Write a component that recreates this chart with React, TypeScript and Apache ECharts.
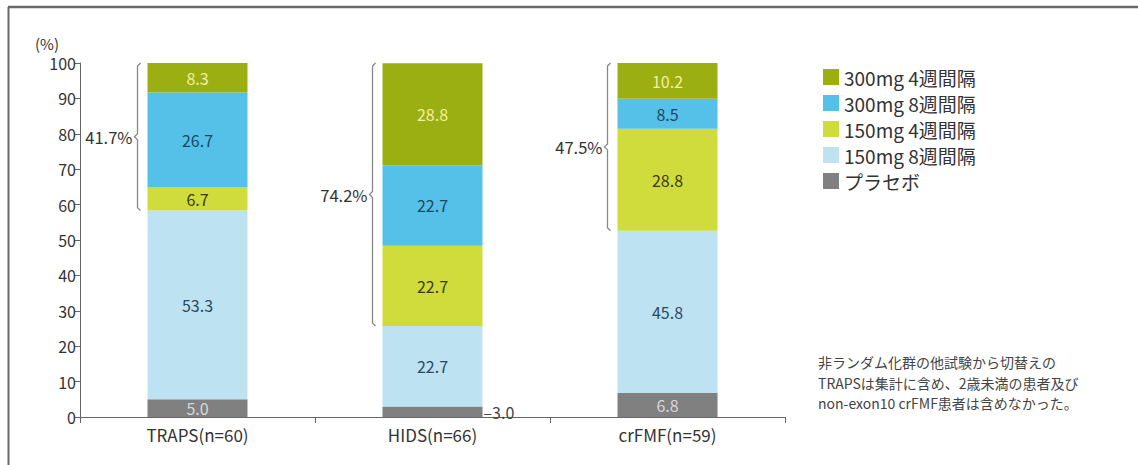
import React, { useEffect, useRef } from "react";
import * as echarts from "echarts";

const categories = ["TRAPS(n=60)", "HIDS(n=66)", "crFMF(n=59)"];
const placebo = [5.0, 3.0, 6.8];
const mg150w8 = [53.3, 22.7, 45.8];
const mg150w4 = [6.7, 22.7, 28.8];
const mg300w8 = [26.7, 22.7, 8.5];
const mg300w4 = [8.3, 28.8, 10.2];
const bracketTotals = ["41.7%", "74.2%", "47.5%"];
const yTicks = [0, 10, 20, 30, 40, 50, 60, 70, 80, 90, 100];
const legendNames = ["300mg 4週間隔", "300mg 8週間隔", "150mg 4週間隔", "150mg 8週間隔", "プラセボ"];
const noteLines = [
  "非ランダム化群の他試験から切替えの",
  "TRAPSは集計に含め、2歳未満の患者及び",
  "non-exon10 crFMF患者は含めなかった。",
];

const FONT = "'Noto Sans CJK JP', 'Noto Sans', sans-serif";

export default function App() {
  const ref = useRef<HTMLDivElement>(null);
  useEffect(() => {
    if (!ref.current) return;
    const chart = echarts.init(ref.current, null, { renderer: "svg" });

    const mk = (
      name: string,
      data: number[],
      color: string,
      labelColor: string
    ) => ({
      name,
      type: "bar",
      stack: "total",
      barWidth: 100,
      data: data.map((v) => {
        if (name === "プラセボ" && v < 4) {
          return {
            value: v,
            label: {
              position: "right",
              distance: 1,
              color: "#444",
              formatter: () => "–" + v.toFixed(1),
            },
          };
        }
        return v;
      }),
      itemStyle: { color },
      label: {
        show: true,
        position: "inside",
        color: labelColor,
        fontSize: 16,
        fontFamily: FONT,
        formatter: (p: any) => Number(p.value).toFixed(1),
      },
      emphasis: { disabled: true },
    });

    const bracketData = categories.map((_, i) => [
      i,
      placebo[i] + mg150w8[i],
      100,
    ]);

    chart.setOption({
      animation: false,
      grid: { left: 80, top: 63, right: 353, bottom: 48, containLabel: false },
      legend: {
        orient: "vertical",
        left: 818,
        top: 62,
        itemWidth: 16,
        itemHeight: 16,
        itemGap: 6,
        icon: "rect",
        data: legendNames,
        textStyle: { fontSize: 19, lineHeight: 20, color: "#333", fontFamily: FONT },
        selectedMode: false,
      },
      xAxis: {
        type: "category",
        data: categories,
        boundaryGap: true,
        axisLine: { lineStyle: { color: "#666" } },
        axisTick: { show: true, length: 6, lineStyle: { color: "#666" } },
        axisLabel: { fontSize: 17, color: "#333", fontFamily: FONT, margin: 9 },
      },
      yAxis: {
        type: "value",
        min: yTicks[0],
        max: yTicks[yTicks.length - 1],
        interval: 10,
        splitLine: { show: false },
        axisLine: { show: true, lineStyle: { color: "#666" } },
        axisTick: { show: true, length: 6, lineStyle: { color: "#666" } },
        axisLabel: { fontSize: 16, color: "#333", fontFamily: FONT, margin: 4 },
      },
      graphic: [
        { type: "line", shape: { x1: 8, y1: 7, x2: 1138, y2: 7 }, style: { stroke: "#6a6a6a", lineWidth: 2.5 } },
        { type: "line", shape: { x1: 8.5, y1: 7, x2: 8.5, y2: 465 }, style: { stroke: "#6a6a6a", lineWidth: 2 } },
        {
          type: "text",
          left: 35,
          top: 36,
          style: { text: "(%)", fontSize: 15, fill: "#333", fontFamily: FONT },
        },
        ...noteLines.map((t, i) => ({
          type: "text",
          x: 818,
          y: 362 + i * 20.5,
          style: {
            text: t,
            fontSize: 14,
            verticalAlign: "middle",
            fill: "#444",
            fontFamily: FONT,
          },
        })),
      ],
      series: [
        mk("プラセボ", placebo, "#808080", "#d8d8d8"),
        mk("150mg 8週間隔", mg150w8, "#bde2f2", "#2c4a60"),
        mk("150mg 4週間隔", mg150w4, "#d0dc3c", "#3a3a18"),
        mk("300mg 8週間隔", mg300w8, "#56c1e8", "#1a4766"),
        mk("300mg 4週間隔", mg300w4, "#9caf12", "#f3efa0"),
        {
          type: "custom",
          name: "bracket",
          data: bracketData,
          encode: { x: 0, y: [1, 2] },
          silent: true,
          renderItem: (params: any, api: any) => {
            const lo = api.coord([api.value(0), api.value(1)]);
            const hi = api.coord([api.value(0), api.value(2)]);
            const x = lo[0] - 60;
            const yb = lo[1];
            const yt = hi[1];
            const ym = (yb + yt) / 2;
            const label = bracketTotals[params.dataIndex];
            return {
              type: "group",
              children: [
                {
                  type: "polyline",
                  shape: {
                    points: [
                      [x + 3, yt],
                      [x, yt + 3],
                      [x, ym - 3],
                      [x - 3, ym],
                      [x, ym + 3],
                      [x, yb - 3],
                      [x + 3, yb],
                    ],
                  },
                  style: { stroke: "#888", lineWidth: 1.3, fill: "none" },
                },
                {
                  type: "text",
                  style: {
                    text: label,
                    x: x - 5,
                    y: ym,
                    align: "right",
                    verticalAlign: "middle",
                    fontSize: 16.5,
                    fill: "#333",
                    fontFamily: FONT,
                  },
                },
              ],
            };
          },
        },
      ],
    });
    return () => chart.dispose();
  }, []);
  return (
    <div
      ref={ref}
      style={{ position: "absolute", left: 0, top: 0, width: 1138, height: 465, background: "#fff" }}
    />
  );
}
